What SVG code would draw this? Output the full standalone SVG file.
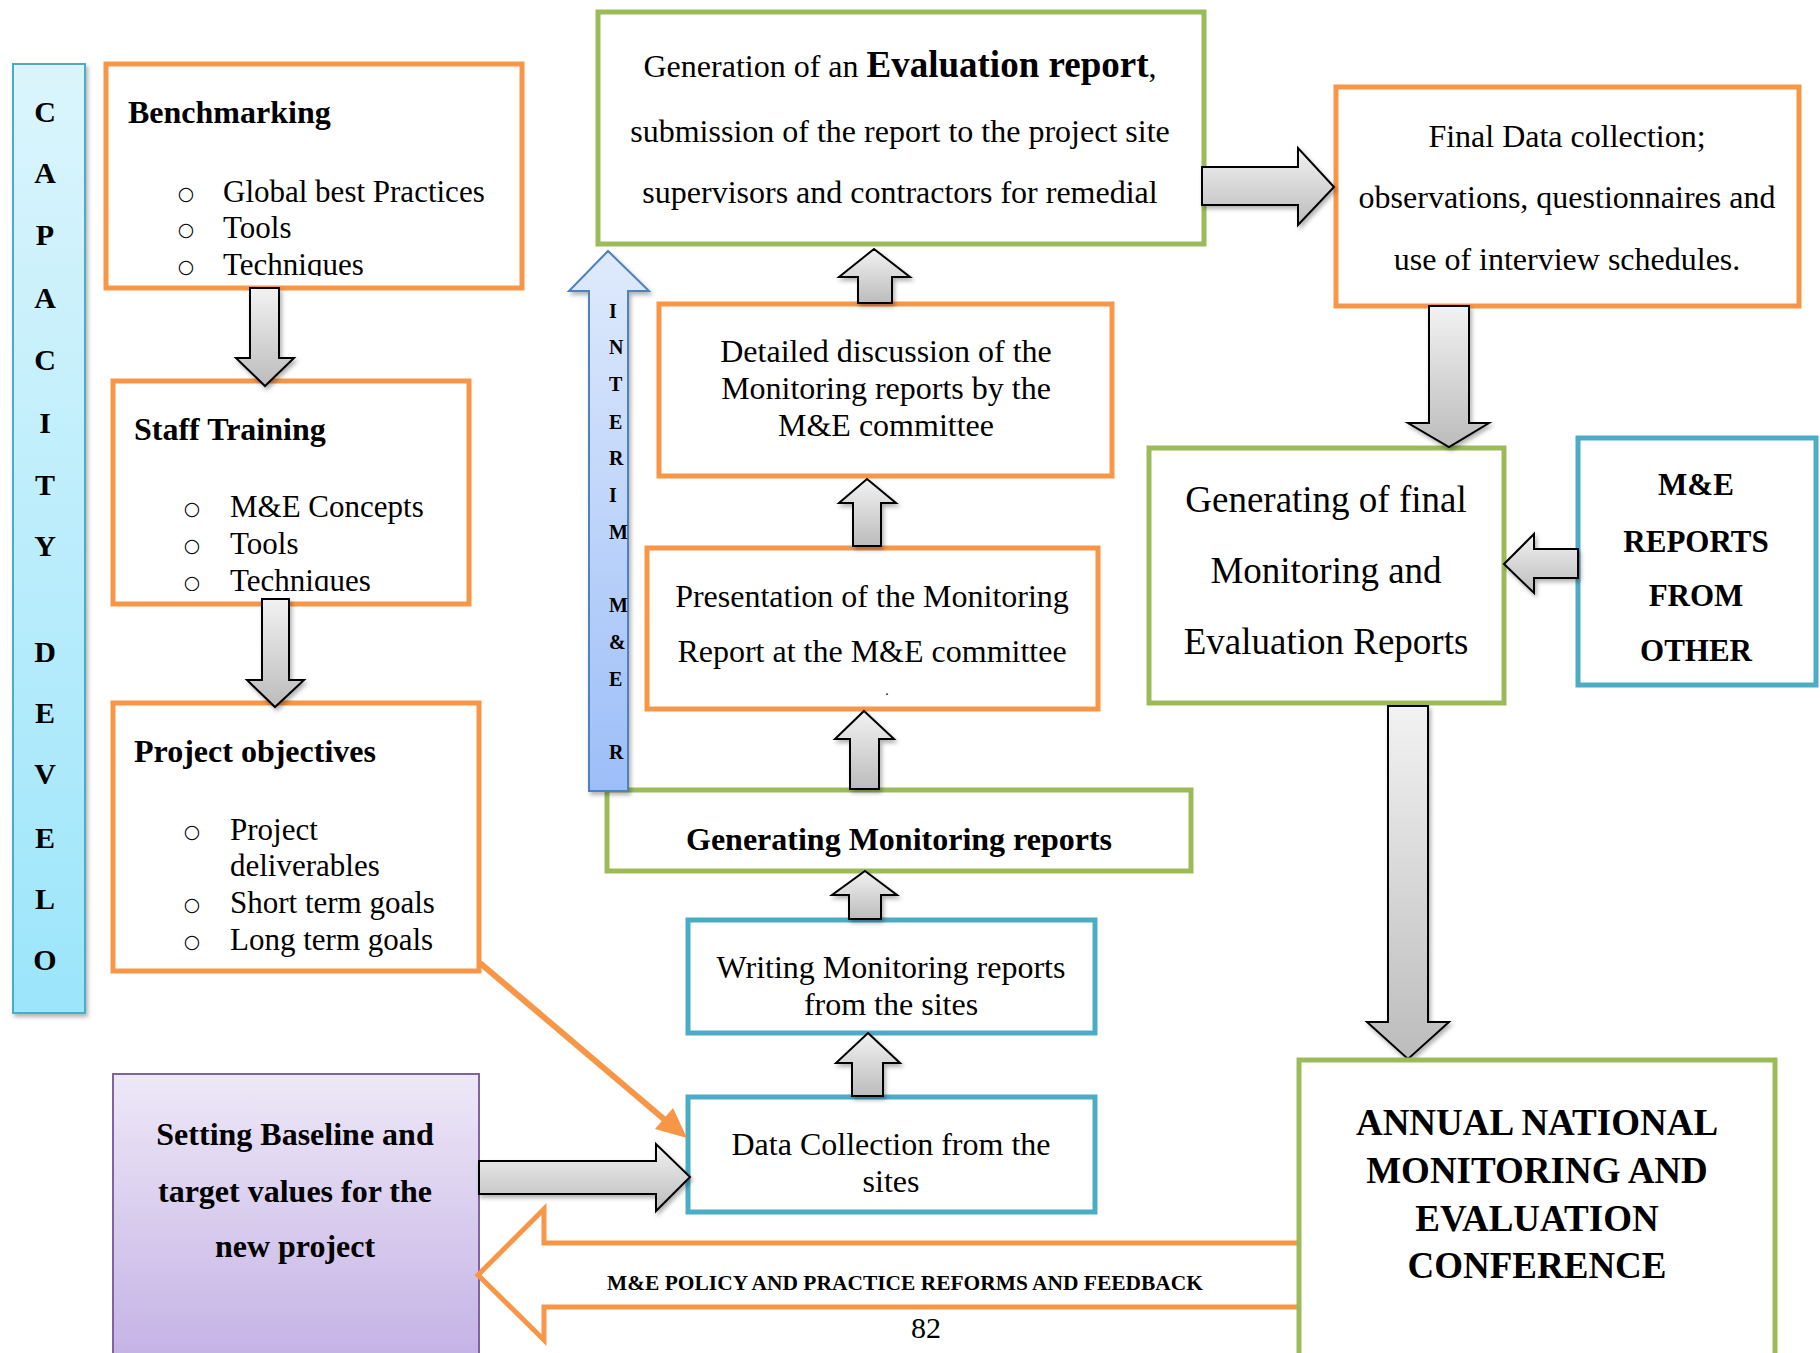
<svg xmlns="http://www.w3.org/2000/svg" width="1820" height="1353" viewBox="0 0 1820 1353">
  <defs>
    <linearGradient id="grayFill" x1="0" y1="0" x2="0" y2="1">
      <stop offset="0" stop-color="#f2f2f2"/>
      <stop offset="1" stop-color="#bcbcbc"/>
    </linearGradient>
    <linearGradient id="cyanFill" x1="0" y1="0" x2="0" y2="1">
      <stop offset="0" stop-color="#dbf5fc"/>
      <stop offset="1" stop-color="#9ce5fb"/>
    </linearGradient>
    <linearGradient id="blueFill" x1="0" y1="0" x2="0" y2="1">
      <stop offset="0" stop-color="#dfeafc"/>
      <stop offset="1" stop-color="#9cbef8"/>
    </linearGradient>
    <linearGradient id="purpleFill" x1="0" y1="0" x2="0" y2="1">
      <stop offset="0" stop-color="#eee8f7"/>
      <stop offset="1" stop-color="#c4b2e5"/>
    </linearGradient>
    <filter id="shadow" x="-20%" y="-20%" width="150%" height="150%">
      <feDropShadow dx="2" dy="3" stdDeviation="2" flood-color="#000" flood-opacity="0.3"/>
    </filter>
    <clipPath id="clipBench"><rect x="106" y="64" width="416" height="212"/></clipPath>
    <clipPath id="clipStaff"><rect x="113" y="381" width="356" height="210"/></clipPath>
    <style>
      .box { fill: #fff; stroke-width: 5; }
      .orange { stroke: #f79646; }
      .green { stroke: #9bbb59; }
      .blue { stroke: #4bacc6; }
      .t { font-family: "Liberation Serif", "Times New Roman", serif; fill: #000; }
      .r32 { font-size: 32px; }
      .r31 { font-size: 31px; }
      .b32 { font-size: 32px; font-weight: bold; }
      .mid { text-anchor: middle; }
      .bul { font-family: "DejaVu Sans", sans-serif; font-size: 19px; text-anchor: middle; }
      .vert { font-family: "Liberation Serif", "Times New Roman", serif; font-weight: bold; font-size: 30px; text-anchor: middle; }
      .interim { font-family: "Liberation Serif", "Times New Roman", serif; font-weight: bold; font-size: 20px; }
      .garrow { fill: url(#grayFill); stroke: #000; stroke-width: 2; stroke-linejoin: miter; filter: url(#shadow); }
    </style>
  </defs>

  <rect x="0" y="0" width="1820" height="1353" fill="#fff"/>

  <!-- Vertical capacity development bar -->
  <g id="capacity">
    <rect x="13" y="64" width="72" height="949" fill="url(#cyanFill)" stroke="#4bacc6" stroke-width="2" filter="url(#shadow)"/>
    <text class="vert" x="45" y="122">C</text>
    <text class="vert" x="45" y="183">A</text>
    <text class="vert" x="45" y="245">P</text>
    <text class="vert" x="45" y="308">A</text>
    <text class="vert" x="45" y="370">C</text>
    <text class="vert" x="45" y="433">I</text>
    <text class="vert" x="45" y="495">T</text>
    <text class="vert" x="45" y="556">Y</text>
    <text class="vert" x="45" y="662">D</text>
    <text class="vert" x="45" y="723">E</text>
    <text class="vert" x="45" y="784">V</text>
    <text class="vert" x="45" y="848">E</text>
    <text class="vert" x="45" y="909">L</text>
    <text class="vert" x="45" y="970">O</text>
  </g>

  <!-- Benchmarking -->
  <g id="benchmarking">
    <rect class="box orange" x="106" y="64" width="416" height="224"/>
    <text class="t b32" x="128" y="123">Benchmarking</text>
    <g clip-path="url(#clipBench)">
      <text class="bul" x="186" y="200">○</text>
      <text class="t r31" x="223" y="202">Global best Practices</text>
      <text class="bul" x="186" y="236">○</text>
      <text class="t r31" x="223" y="238">Tools</text>
      <text class="bul" x="186" y="273">○</text>
      <text class="t r31" x="223" y="275">Techniques</text>
    </g>
  </g>

  <!-- Staff Training -->
  <g id="staff-training">
    <rect class="box orange" x="113" y="381" width="356" height="223"/>
    <text class="t b32" x="134" y="440">Staff Training</text>
    <g clip-path="url(#clipStaff)">
      <text class="bul" x="192" y="515">○</text>
      <text class="t r31" x="230" y="517">M&amp;E Concepts</text>
      <text class="bul" x="192" y="552">○</text>
      <text class="t r31" x="230" y="554">Tools</text>
      <text class="bul" x="192" y="589">○</text>
      <text class="t r31" x="230" y="591">Techniques</text>
    </g>
  </g>

  <!-- Project objectives -->
  <g id="project-objectives">
    <rect class="box orange" x="113" y="703" width="366" height="268"/>
    <text class="t b32" x="134" y="762">Project objectives</text>
    <text class="bul" x="192" y="838">○</text>
    <text class="t r31" x="230" y="840">Project</text>
    <text class="t r31" x="230" y="876">deliverables</text>
    <text class="bul" x="192" y="911">○</text>
    <text class="t r31" x="230" y="913">Short term goals</text>
    <text class="bul" x="192" y="948">○</text>
    <text class="t r31" x="230" y="950">Long term goals</text>
  </g>

  <!-- Setting baseline -->
  <g id="setting-baseline">
    <rect x="113" y="1074" width="366" height="285" fill="url(#purpleFill)" stroke="#8064a2" stroke-width="2"/>
    <text class="t b32 mid" x="295" y="1145">Setting Baseline and</text>
    <text class="t b32 mid" x="295" y="1202">target values for the</text>
    <text class="t b32 mid" x="295" y="1257">new project</text>
  </g>

  <!-- Evaluation report -->
  <g id="evaluation-report">
    <rect class="box green" x="598" y="12" width="606" height="232"/>
    <text class="t mid" x="900" y="77" style="font-size:32px">Generation of an <tspan font-weight="bold" font-size="37">Evaluation report</tspan>,</text>
    <text class="t r32 mid" x="900" y="142">submission of the report to the project site</text>
    <text class="t r32 mid" x="900" y="203">supervisors and contractors for remedial</text>
  </g>

  <!-- Detailed discussion -->
  <g id="detailed-discussion">
    <rect class="box orange" x="659" y="304" width="453" height="172"/>
    <text class="t r32 mid" x="886" y="362">Detailed discussion of the</text>
    <text class="t r32 mid" x="886" y="399">Monitoring reports by the</text>
    <text class="t r32 mid" x="886" y="436">M&amp;E committee</text>
  </g>

  <!-- Presentation -->
  <g id="presentation">
    <rect class="box orange" x="647" y="548" width="451" height="161"/>
    <text class="t r32 mid" x="872" y="607">Presentation of the Monitoring</text>
    <text class="t r32 mid" x="872" y="662">Report at the M&amp;E committee</text>
    <text class="t mid" x="887" y="695" style="font-size:14px">.</text>
  </g>

  <!-- Generating monitoring reports -->
  <g id="generating-monitoring">
    <rect class="box green" x="607" y="790" width="584" height="81"/>
    <text class="t b32 mid" x="899" y="850">Generating Monitoring reports</text>
  </g>

  <!-- Writing monitoring reports -->
  <g id="writing-reports">
    <rect class="box blue" x="688" y="920" width="407" height="113"/>
    <text class="t r32 mid" x="891" y="978">Writing Monitoring reports</text>
    <text class="t r32 mid" x="891" y="1015">from the sites</text>
  </g>

  <!-- Data collection -->
  <g id="data-collection">
    <rect class="box blue" x="688" y="1097" width="407" height="115"/>
    <text class="t r32 mid" x="891" y="1155">Data Collection from the</text>
    <text class="t r32 mid" x="891" y="1192">sites</text>
  </g>

  <!-- Final data collection -->
  <g id="final-data">
    <rect class="box orange" x="1336" y="87" width="463" height="219"/>
    <text class="t r32 mid" x="1567" y="147">Final Data collection;</text>
    <text class="t r32 mid" x="1567" y="208">observations, questionnaires and</text>
    <text class="t r32 mid" x="1567" y="270">use of interview schedules.</text>
  </g>

  <!-- Generating final reports -->
  <g id="generating-final">
    <rect class="box green" x="1149" y="448" width="355" height="255"/>
    <text class="t mid" x="1326" y="512" style="font-size:37px">Generating of final</text>
    <text class="t mid" x="1326" y="583" style="font-size:37px">Monitoring and</text>
    <text class="t mid" x="1326" y="654" style="font-size:37px">Evaluation Reports</text>
  </g>

  <!-- Reports from other -->
  <g id="reports-other">
    <rect class="box blue" x="1578" y="438" width="238" height="247"/>
    <text class="t mid" x="1696" y="495" style="font-size:31px;font-weight:bold">M&amp;E</text>
    <text class="t mid" x="1696" y="552" style="font-size:31px;font-weight:bold">REPORTS</text>
    <text class="t mid" x="1696" y="606" style="font-size:31px;font-weight:bold">FROM</text>
    <text class="t mid" x="1696" y="661" style="font-size:31px;font-weight:bold">OTHER</text>
  </g>

  <!-- Connectors -->
  <g id="connectors">
    <!-- interim M&E upward arrow -->
    <g id="interim">
      <polygon points="608,251 649,291 628,291 628,791 589,791 589,291 569,291" fill="url(#blueFill)" stroke="#4f81bd" stroke-width="2" filter="url(#shadow)"/>
      <text class="interim" x="609" y="318">I</text>
      <text class="interim" x="609" y="354">N</text>
      <text class="interim" x="609" y="391">T</text>
      <text class="interim" x="609" y="429">E</text>
      <text class="interim" x="609" y="465">R</text>
      <text class="interim" x="609" y="502">I</text>
      <text class="interim" x="609" y="539">M</text>
      <text class="interim" x="609" y="612">M</text>
      <text class="interim" x="609" y="649">&amp;</text>
      <text class="interim" x="609" y="686">E</text>
      <text class="interim" x="609" y="759">R</text>
    </g>

    <!-- feedback arrow -->
    <g id="feedback">
      <polygon points="478,1275 544,1209 544,1243 1301,1243 1301,1307 544,1307 544,1340" fill="#fff" stroke="#f79646" stroke-width="5" stroke-linejoin="miter"/>
      <text class="t" x="607" y="1290" textLength="596" lengthAdjust="spacingAndGlyphs" style="font-size:21px;font-weight:bold">M&amp;E POLICY AND PRACTICE REFORMS AND FEEDBACK</text>
    </g>

    <!-- orange diagonal arrow -->
    <line x1="480" y1="963" x2="665" y2="1120" stroke="#f79646" stroke-width="6"/>
    <polygon points="687,1138 655,1129 673,1108" fill="#f79646"/>

    <!-- gray block arrows -->
    <polygon class="garrow" points="250,288 279,288 279,358 294,358 265,386 236,358 250,358"/>
    <polygon class="garrow" points="262,599 289,599 289,680 304,680 275,707 247,680 262,680"/>
    <polygon class="garrow" points="874,249 910,277 892,277 892,303 858,303 858,277 839,277"/>
    <polygon class="garrow" points="867,479 896,503 881,503 881,546 853,546 853,503 839,503"/>
    <polygon class="garrow" points="864,711 894,739 879,739 879,789 850,789 850,739 835,739"/>
    <polygon class="garrow" points="865,871 897,895 881,895 881,919 849,919 849,895 832,895"/>
    <polygon class="garrow" points="868,1033 900,1063 883,1063 883,1096 852,1096 852,1063 836,1063"/>
    <polygon class="garrow" points="1202,167 1298,167 1298,148 1334,187 1298,225 1298,205 1202,205"/>
    <polygon class="garrow" points="1429,306 1469,306 1469,423 1489,423 1449,447 1408,423 1429,423"/>
    <polygon class="garrow" points="1578,549 1534,549 1534,534 1504,564 1534,593 1534,578 1578,578"/>
    <polygon class="garrow" points="1388,706 1428,706 1428,1022 1449,1022 1408,1059 1367,1022 1388,1022"/>
    <polygon class="garrow" points="479,1161 656,1161 656,1144 690,1177 656,1211 656,1194 479,1194"/>
  </g>

  <!-- Annual conference -->
  <g id="annual-conference">
    <rect class="box green" x="1299" y="1060" width="476" height="300"/>
    <text class="t mid" x="1537" y="1135" style="font-size:37px;font-weight:bold">ANNUAL NATIONAL</text>
    <text class="t mid" x="1537" y="1183" style="font-size:37px;font-weight:bold">MONITORING AND</text>
    <text class="t mid" x="1537" y="1231" style="font-size:37px;font-weight:bold">EVALUATION</text>
    <text class="t mid" x="1537" y="1278" style="font-size:37px;font-weight:bold">CONFERENCE</text>
  </g>

  <!-- page number -->
  <text class="t mid" x="926" y="1338" style="font-size:30px">82</text>
</svg>
